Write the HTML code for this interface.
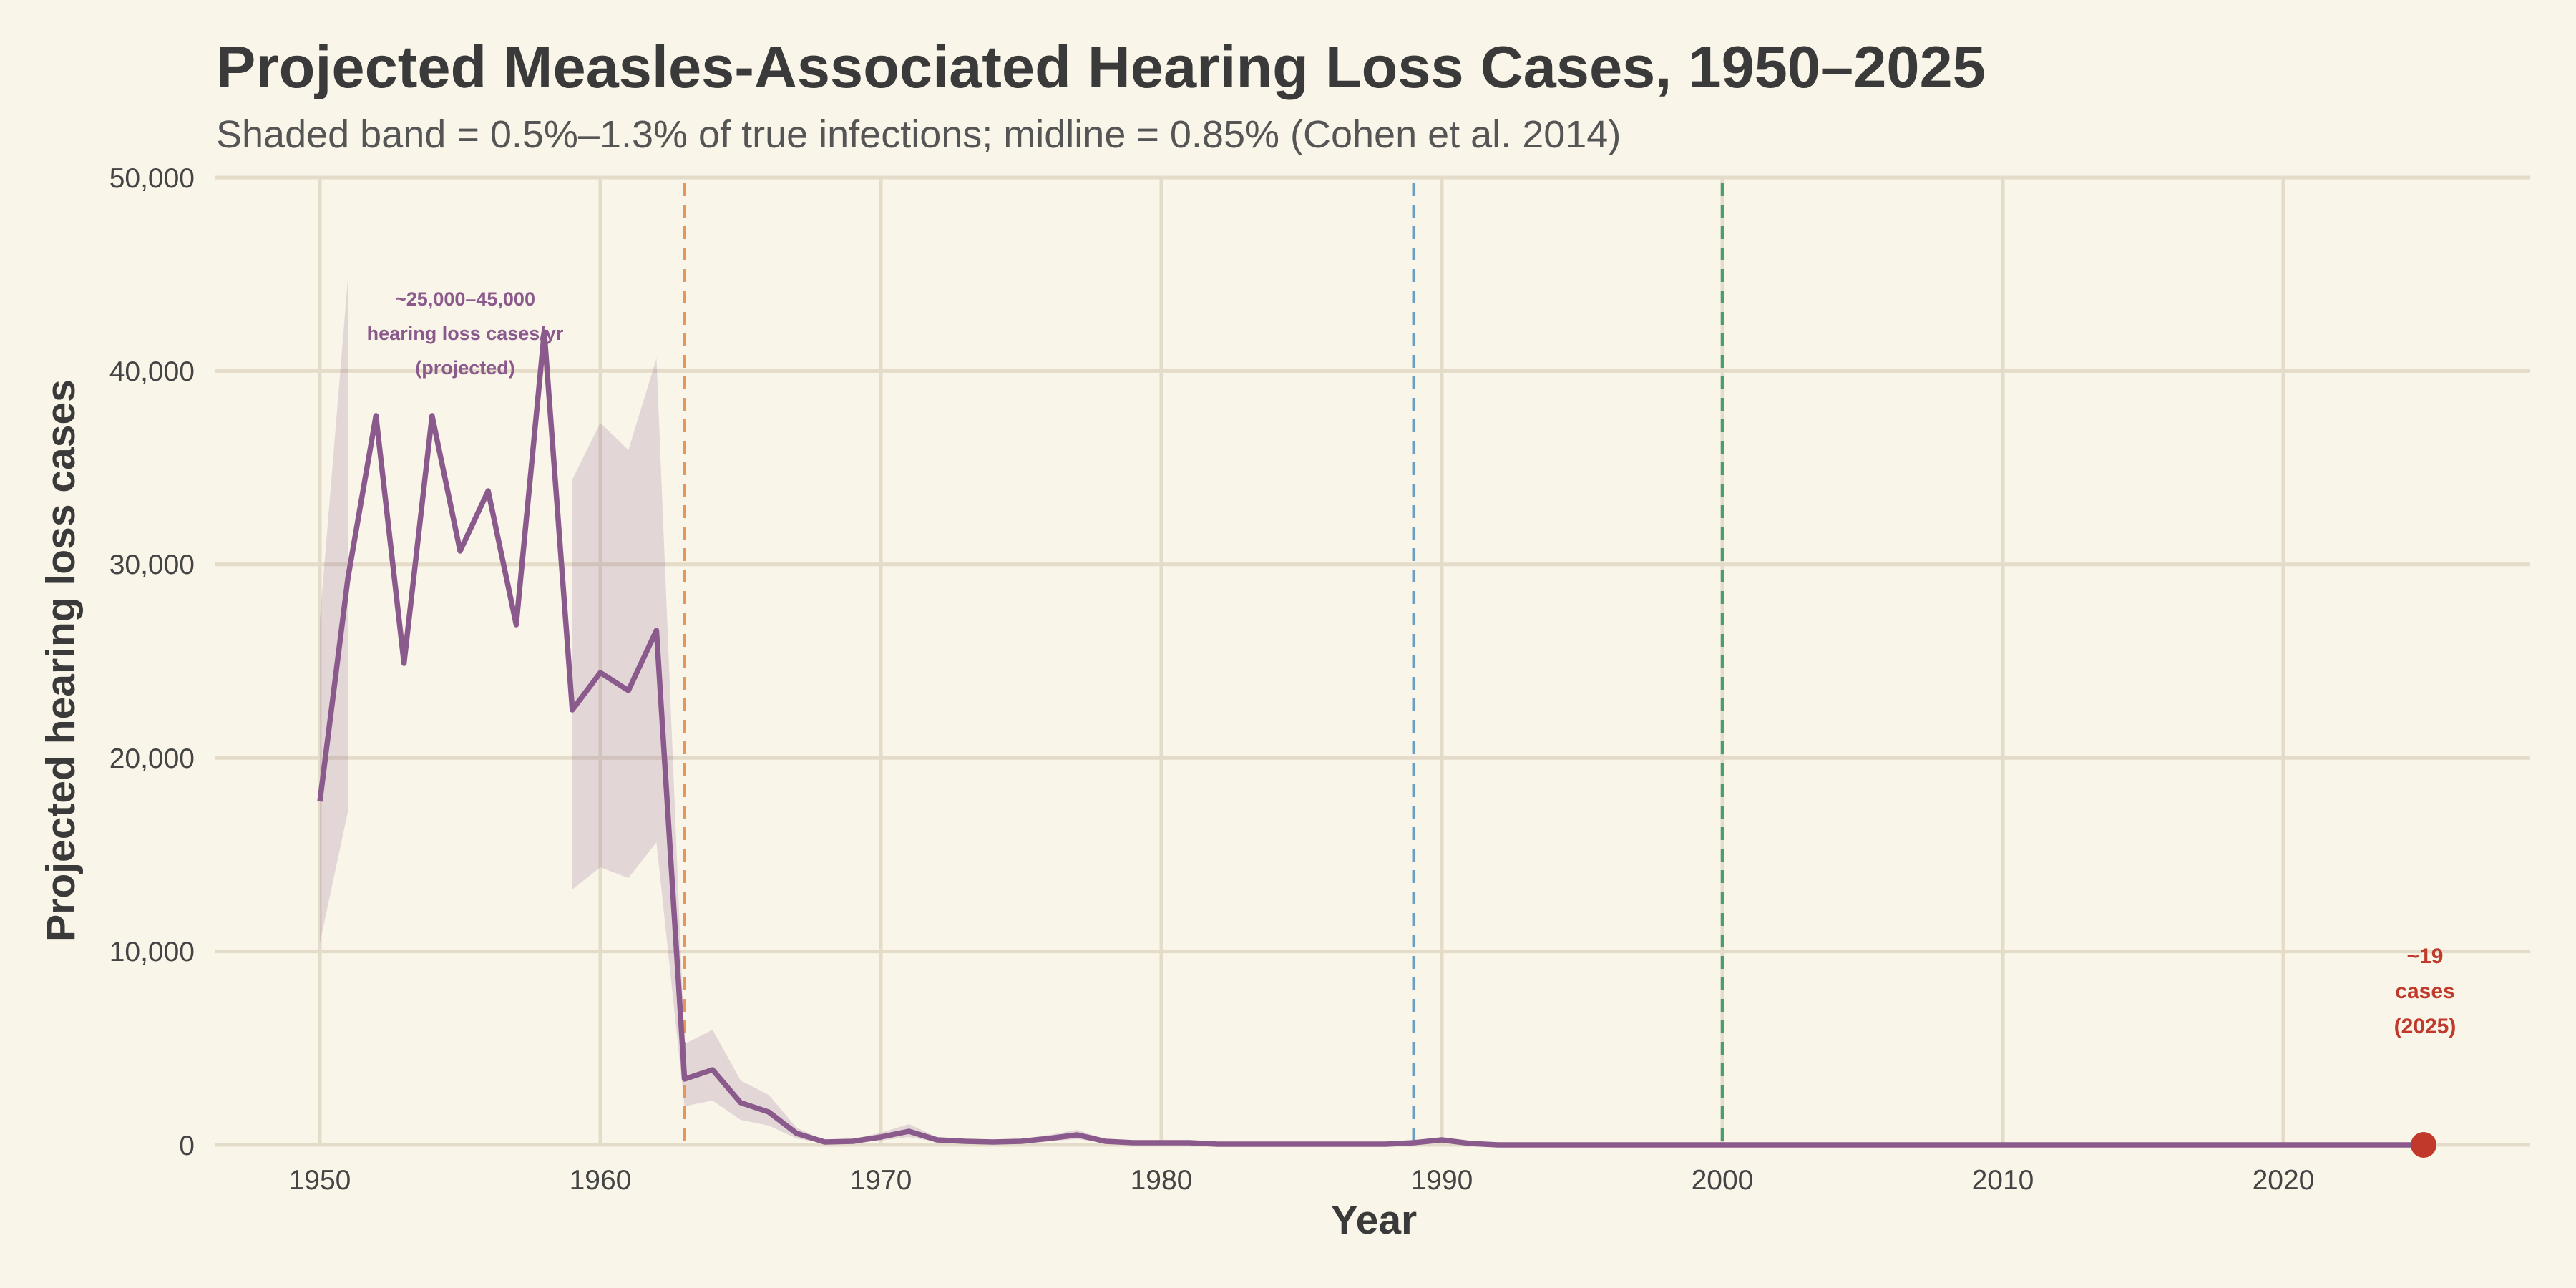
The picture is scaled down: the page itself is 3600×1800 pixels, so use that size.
<!DOCTYPE html>
<html><head><meta charset="utf-8"><style>
html,body{margin:0;padding:0;background:#f9f5e9;}
svg{display:block;font-family:"Liberation Sans",Arial,sans-serif;}
</style></head><body>
<svg width="3600" height="1800" viewBox="0 0 3600 1800" xmlns="http://www.w3.org/2000/svg">
<rect width="3600" height="1800" fill="#f9f5e9"/>
<text x="302" y="122" font-size="83" font-weight="bold" fill="#3a3a3a">Projected Measles-Associated Hearing Loss Cases, 1950–2025</text>
<text x="302" y="206" font-size="54" fill="#555555">Shaded band = 0.5%–1.3% of true infections; midline = 0.85% (Cohen et al. 2014)</text>
<g stroke="#e4dcc8" stroke-width="5">
<line x1="300" y1="1600" x2="3536" y2="1600"/>
<line x1="300" y1="1329.6" x2="3536" y2="1329.6"/>
<line x1="300" y1="1059.2" x2="3536" y2="1059.2"/>
<line x1="300" y1="788.8" x2="3536" y2="788.8"/>
<line x1="300" y1="518.4" x2="3536" y2="518.4"/>
<line x1="300" y1="248" x2="3536" y2="248"/>
<line x1="447" y1="248" x2="447" y2="1600"/>
<line x1="839" y1="248" x2="839" y2="1600"/>
<line x1="1231" y1="248" x2="1231" y2="1600"/>
<line x1="1623" y1="248" x2="1623" y2="1600"/>
<line x1="2015" y1="248" x2="2015" y2="1600"/>
<line x1="2407" y1="248" x2="2407" y2="1600"/>
<line x1="2799" y1="248" x2="2799" y2="1600"/>
<line x1="3191" y1="248" x2="3191" y2="1600"/>
</g>
<g fill="#8b5a8c" fill-opacity="0.2">
<polygon points="447,866 486.2,389 486.2,1134 447,1318"/>
<polygon points="799.8,670 839,591 878.2,629 917.4,501 956.6,1459 995.8,1439 1035,1510 1074.2,1530 1113.4,1576 1152.6,1594 1191.8,1592 1231,1583 1270.2,1571 1309.4,1589 1348.6,1592 1387.8,1594 1427,1592 1466.2,1586 1505.4,1579 1544.6,1592 1583.8,1595 1662.2,1595 1701.4,1599 1936.6,1599 1975.8,1595 2015,1590 2054.2,1597 2093.4,1600 3387,1600 3387,1600 2093.4,1600 2054.2,1599 2015,1596 1975.8,1598 1936.6,1600 1701.4,1600 1662.2,1598 1583.8,1598 1544.6,1597 1505.4,1592 1466.2,1595 1427,1597 1387.8,1598 1348.6,1597 1309.4,1596 1270.2,1589 1231,1594 1191.8,1597 1152.6,1598 1113.4,1591 1074.2,1573 1035,1565 995.8,1538 956.6,1546 917.4,1177 878.2,1227 839,1212 799.8,1243"/>
</g>
<g stroke-width="4.5" stroke-dasharray="18,12" fill="none">
<line x1="956.6" y1="256" x2="956.6" y2="1600" stroke="#e8955a"/>
<line x1="1975.8" y1="256" x2="1975.8" y2="1600" stroke="#6a9ec4"/>
<line x1="2407" y1="256" x2="2407" y2="1600" stroke="#4a9e6e"/>
</g>
<polyline fill="none" stroke="#8b5a8c" stroke-width="7.5" stroke-linejoin="round" points="447,1120 486.2,808 525.4,581 564.6,927 603.8,581 643,770 682.2,686 721.4,873 760.6,464 799.8,992 839,940 878.2,965 917.4,881 956.6,1508 995.8,1495 1035,1541 1074.2,1554 1113.4,1584 1152.6,1596 1191.8,1595 1231,1589 1270.2,1581 1309.4,1593 1348.6,1595 1387.8,1596 1427,1595 1466.2,1591 1505.4,1586 1544.6,1595 1583.8,1597 1662.2,1597 1701.4,1599 1936.6,1599 1975.8,1597 2015,1593 2054.2,1598 2093.4,1600 3387,1600"/>
<circle cx="3387" cy="1600" r="18" fill="#c0392b"/>
<g font-size="27" font-weight="bold" fill="#8b5a8c" text-anchor="middle">
<text x="650" y="427">~25,000–45,000</text>
<text x="650" y="475">hearing loss cases/yr</text>
<text x="650" y="523">(projected)</text>
</g>
<g font-size="30" font-weight="bold" fill="#c0392b" text-anchor="middle">
<text x="3389" y="1346">~19</text>
<text x="3389" y="1395">cases</text>
<text x="3389" y="1444">(2025)</text>
</g>
<g font-size="39" fill="#444" text-anchor="end">
<text x="272" y="1614">0</text>
<text x="272" y="1343">10,000</text>
<text x="272" y="1073">20,000</text>
<text x="272" y="802">30,000</text>
<text x="272" y="532">40,000</text>
<text x="272" y="262">50,000</text>
</g>
<g font-size="39" fill="#444" text-anchor="middle">
<text x="447" y="1662">1950</text>
<text x="839" y="1662">1960</text>
<text x="1231" y="1662">1970</text>
<text x="1623" y="1662">1980</text>
<text x="2015" y="1662">1990</text>
<text x="2407" y="1662">2000</text>
<text x="2799" y="1662">2010</text>
<text x="3191" y="1662">2020</text>
</g>
<text x="1920" y="1724" font-size="57" font-weight="bold" fill="#3a3a3a" text-anchor="middle">Year</text>
<text transform="translate(104,923) rotate(-90)" font-size="57" font-weight="bold" fill="#3a3a3a" text-anchor="middle">Projected hearing loss cases</text>
</svg>
</body></html>
